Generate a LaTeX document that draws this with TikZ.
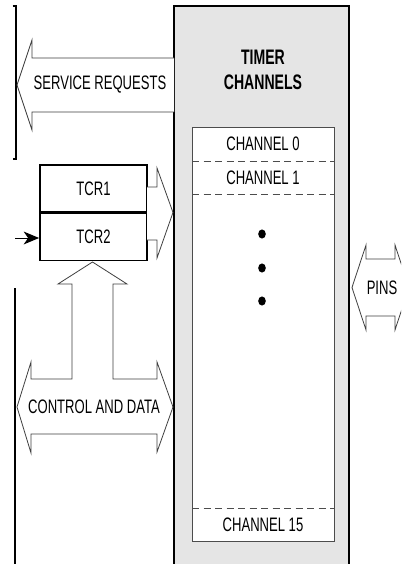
\documentclass[tikz,border=0pt]{standalone}
\usepackage{fontspec}
\newfontfamily\lblfont{Liberation Sans}[FakeStretch=0.67]
\usetikzlibrary{arrows.meta}
\tikzset{
  lbl/.style={font=\lblfont\fontsize{19.5}{22}\selectfont, inner sep=0pt, text=black},
  ttl/.style={font=\lblfont\bfseries\fontsize{21}{25}\selectfont, align=center, inner sep=0pt},
  blockarrow/.style={fill=white, draw=black!75, line width=0.8pt, line join=miter},
  edge/.style={draw=black, line width=1.1pt},
  reg/.style={draw=black, line width=1.2pt, fill=white, minimum width=107pt, minimum height=47pt, inner sep=0pt},
  divider/.style={draw=black!70, line width=0.9pt, dash pattern=on 7pt off 4.5pt},
  dotmark/.style={fill=black},
}
\begin{document}
\begin{tikzpicture}[x=1pt, y=-1pt]
\begin{scope}
\clip (0,0) rectangle (401,564);
\fill[white] (0,0) rectangle (401,564);

% timer channel block (open at the bottom edge)
\fill[black!10] (174,6) rectangle (349,570);
\draw[edge] (174,570) -- (174,6) -- (349,6) -- (349,570);
\node[ttl] (title) at (263,70) {TIMER\\CHANNELS};

% channel list
\node[draw=black!70, line width=0.9pt, fill=white, minimum width=142pt, minimum height=414pt, inner sep=0pt] (list) at (263,334) {};
\draw[divider] (192,161) -- (334,161);
\draw[divider] (192,194) -- (334,194);
\draw[divider] (192,508) -- (334,508);
\node[lbl] (ch0) at (263,144) {CHANNEL 0};
\node[lbl] (ch1) at (263,177.5) {CHANNEL 1};
\node[lbl] (ch15) at (263,524.5) {CHANNEL 15};
\fill[dotmark] (262,234) ellipse [x radius=3.8pt, y radius=4.6pt];
\fill[dotmark] (262,268) ellipse [x radius=3.8pt, y radius=4.6pt];
\fill[dotmark] (262,301) ellipse [x radius=3.8pt, y radius=4.6pt];

% service request bus bracket
\draw[line width=1.2pt] (12.5,6) -- (16,6) -- (16,159) -- (12.5,159);

% service requests arrow
\draw[blockarrow] (174,58) -- (32,58) -- (32,40) -- (17,85) -- (32,130) -- (32,112) -- (174,112);
\node[lbl] (sr) at (100,85) {SERVICE REQUESTS};

% time base registers
\node[reg] (tcr1) at (93.5,188.5) {};
\node[reg] (tcr2) at (93.5,237) {};
\node[lbl] at (tcr1) {TCR1};
\node[lbl] at (tcr2) {TCR2};

% clock input into TCR2, with a solid barbed head
\coordinate (clkin) at (15,238);
\coordinate (clktip) at (tcr2.west |- clkin);
\draw[line width=1pt] (clkin) -- ([xshift=-8pt]clktip);
\fill ([xshift=-0.3pt]clktip) -- ++(-15.5,-6.5) -- ++(4.5,6.5) -- ++(-4.5,6.5) -- cycle;

% registers to channels
\draw[blockarrow] (147,187) -- (157,187) -- (157,168) -- (173,212.5) -- (157,258) -- (157,240) -- (147,240);

% control and data bus with branch to the registers
\draw[blockarrow] (17,407) -- (31,362) -- (31,379) -- (72,379) -- (72,284) -- (58,284)
  -- (92.5,262) -- (127,284) -- (113,284) -- (113,379) -- (157,379) -- (157,362)
  -- (173,407) -- (157,452) -- (157,434) -- (31,434) -- (31,453) -- cycle;
\node[lbl] (cd) at (94,407) {CONTROL AND DATA};

% bus line on the left
\draw[line width=1.2pt] (15,288) -- (15,570);

% pins
\draw[blockarrow] (395,259) -- (366,259) -- (366,245) -- (352,287.5) -- (366,330) -- (366,316) -- (395,316)
  -- (395,330) -- (409,287.5) -- (395,245) -- cycle;
\node[lbl] (pins) at (382,287.5) {PINS};
\end{scope}
\end{tikzpicture}
\end{document}
